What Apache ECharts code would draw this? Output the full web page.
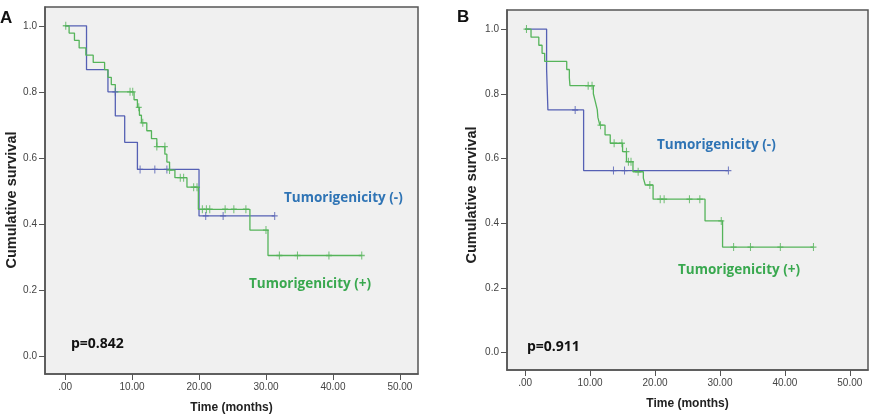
<!DOCTYPE html>
<html><head><meta charset="utf-8">
<script src="https://cdn.jsdelivr.net/npm/echarts@6/dist/echarts.min.js"></script>
<style>html,body{margin:0;padding:0;background:#fff}#c{width:874px;height:416px}</style>
</head><body><div id="c"></div>
<script>
// ---- tick values ----
const ticksX = [0, 10, 20, 30, 40, 50];
const ticksY = [0, 0.2, 0.4, 0.6, 0.8, 1.0];

// ---- Panel A: Tumorigenicity (-) ----
const aNegT = [0, 3.2, 6.4, 7.5, 8.9, 10.8, 20.0, 31.3];
const aNegS = [1.0, 0.867, 0.800, 0.727, 0.647, 0.565, 0.424, 0.424];
const aNegCensT = [7.5, 11.2, 13.4, 15.2, 21.0, 23.6, 31.3];
const aNegCensS = [0.800, 0.565, 0.565, 0.565, 0.424, 0.424, 0.424];

// ---- Panel A: Tumorigenicity (+) ----
const aPosT = [0, 0.6, 1.4, 2.1, 3.1, 4.2, 5.9, 6.4, 6.9, 7.5, 10.3, 10.8, 11.1, 11.4, 12.2, 12.9, 13.7, 14.9, 15.2, 15.6, 16.4, 18.2, 19.9, 27.6, 30.3, 44.3];
const aPosS = [1.0, 0.978, 0.956, 0.933, 0.911, 0.889, 0.867, 0.844, 0.822, 0.800, 0.776, 0.753, 0.729, 0.706, 0.682, 0.658, 0.634, 0.611, 0.587, 0.563, 0.540, 0.511, 0.444, 0.381, 0.304, 0.304];
const aPosCensT = [0.1, 9.7, 10.1, 11.0, 11.6, 13.7, 14.9, 15.6, 17.2, 17.7, 19.2, 19.7, 20.5, 21.1, 21.6, 23.9, 25.2, 27.0, 30.0, 32.0, 34.7, 39.4, 44.3];
const aPosCensS = [1.0, 0.800, 0.800, 0.753, 0.706, 0.634, 0.634, 0.563, 0.540, 0.540, 0.511, 0.511, 0.444, 0.444, 0.444, 0.444, 0.444, 0.444, 0.381, 0.304, 0.304, 0.304, 0.304];

// ---- Panel B: Tumorigenicity (-) ----
const bNegT = [0, 3.3, 3.5, 9.0, 31.3];
const bNegS = [1.0, 0.875, 0.750, 0.5625, 0.5625];
const bNegCensT = [7.7, 13.6, 15.3, 31.3];
const bNegCensS = [0.750, 0.5625, 0.5625, 0.5625];

// ---- Panel B: Tumorigenicity (+) ----
const bPosT = [0, 0.9, 2.1, 2.6, 3.0, 6.4, 6.8, 6.9, 10.5, 10.8, 11.1, 11.2, 11.5, 12.3, 13.1, 15.0, 15.6, 16.6, 18.2, 18.5, 19.7, 27.7, 30.4, 44.4];
const bPosS = [1.0, 0.975, 0.950, 0.925, 0.900, 0.875, 0.850, 0.825, 0.800, 0.776, 0.751, 0.727, 0.703, 0.673, 0.647, 0.621, 0.590, 0.559, 0.539, 0.518, 0.474, 0.407, 0.326, 0.326];
const bPosCensT = [0.2, 9.7, 10.3, 11.6, 13.7, 14.9, 15.6, 15.9, 16.3, 17.4, 19.2, 20.8, 21.4, 25.3, 26.9, 30.2, 32.1, 34.7, 39.3, 44.4];
const bPosCensS = [1.0, 0.825, 0.825, 0.703, 0.647, 0.647, 0.621, 0.590, 0.590, 0.559, 0.518, 0.474, 0.474, 0.474, 0.474, 0.407, 0.326, 0.326, 0.326, 0.326];

// ---- texts ----
const panelLabels = ['A', 'B'];
const legendNeg = 'Tumorigenicity (-)';
const legendPos = 'Tumorigenicity (+)';
const pValues = ['p=0.842', 'p=0.911'];
const yTitle = 'Cumulative survival';
const xTitle = 'Time (months)';

const BLUE_LINE = '#5560b4';
const GREEN_LINE = '#55b45a';
const BLUE_TXT = '#2f74b5';
const GREEN_TXT = '#39a84f';

const zip = (t, s) => t.map((v, i) => [v, s[i]]);
const plus = 'path://M5,0L5,10M1.5,5L8.5,5';

function xAxis(idx, min, max) {
  return {
    gridIndex: idx, type: 'value', min: min, max: max,
    name: xTitle, nameLocation: 'middle', nameGap: 28,
    nameTextStyle: {fontFamily: 'Liberation Sans', fontWeight: 'bold', fontSize: 12, color: '#222'},
    axisLine: {show: true, onZero: false, lineStyle: {color: '#555', width: 1.5}},
    axisTick: {show: true, length: 6, customValues: ticksX, lineStyle: {color: '#555'}},
    axisLabel: {customValues: ticksX, fontSize: 10, color: '#444', fontFamily: 'Liberation Sans', margin: 8,
      formatter: v => v === 0 ? '.00' : v.toFixed(2)},
    splitLine: {show: false}
  };
}
function yAxis(idx, min, max) {
  return {
    gridIndex: idx, type: 'value', min: min, max: max,
    axisLine: {show: true, onZero: false, lineStyle: {color: '#555', width: 1.5}},
    axisTick: {show: true, length: 6, customValues: ticksY, lineStyle: {color: '#555'}},
    axisLabel: {customValues: ticksY, fontSize: 10, color: '#444', fontFamily: 'Liberation Sans', margin: 8,
      formatter: v => v.toFixed(1)},
    splitLine: {show: false}
  };
}
function curve(idx, t, s, color) {
  return {type: 'line', xAxisIndex: idx, yAxisIndex: idx, step: 'end', data: zip(t, s),
    showSymbol: false, lineStyle: {color: color, width: 1.3}, silent: true, animation: false, z: 3};
}
function cens(idx, t, s, color) {
  return {type: 'scatter', xAxisIndex: idx, yAxisIndex: idx, data: zip(t, s),
    symbol: plus, symbolSize: [6, 8],
    itemStyle: {color: 'none', borderColor: color, borderWidth: 1.2}, silent: true, animation: false, z: 4};
}
const txt = (x, y, text, color, size, font) => ({type: 'text', left: x, top: y,
  style: {text: text, fill: color, font: 'bold ' + size + 'px ' + font}});
const vtxt = (cx, cy, text) => ({type: 'text', x: cx, y: cy, rotation: Math.PI / 2,
  style: {text: text, fill: '#222', font: 'bold 14.5px Liberation Sans', align: 'center', verticalAlign: 'middle'}});

const chart = echarts.init(document.getElementById('c'));
chart.setOption({
  backgroundColor: '#fff',
  animation: false,
  grid: [
    {left: 45, top: 7, width: 373, height: 367, outerBoundsMode: 'none', containLabel: false, show: true, backgroundColor: '#f0f0f0', borderColor: '#555', borderWidth: 1.5},
    {left: 507, top: 10, width: 361, height: 360, outerBoundsMode: 'none', containLabel: false, show: true, backgroundColor: '#f0f0f0', borderColor: '#555', borderWidth: 1.5}
  ],
  xAxis: [xAxis(0, -3, 52.7), xAxis(1, -2.8, 52.8)],
  yAxis: [yAxis(0, -0.055, 1.057), yAxis(1, -0.054, 1.059)],
  series: [
    curve(0, aNegT, aNegS, BLUE_LINE), cens(0, aNegCensT, aNegCensS, BLUE_LINE),
    curve(0, aPosT, aPosS, GREEN_LINE), cens(0, aPosCensT, aPosCensS, GREEN_LINE),
    curve(1, bNegT, bNegS, BLUE_LINE), cens(1, bNegCensT, bNegCensS, BLUE_LINE),
    curve(1, bPosT, bPosS, GREEN_LINE), cens(1, bPosCensT, bPosCensS, GREEN_LINE)
  ],
  graphic: [
    txt(0, 10, panelLabels[0], '#111', 17, 'Liberation Sans'),
    txt(457, 9, panelLabels[1], '#111', 17, 'Liberation Sans'),
    vtxt(12, 200, yTitle),
    vtxt(472, 195, yTitle),
    txt(284, 191, legendNeg, BLUE_TXT, 13.5, 'Open Sans'),
    txt(249, 277, legendPos, GREEN_TXT, 13.5, 'Open Sans'),
    txt(657, 138, legendNeg, BLUE_TXT, 13.5, 'Open Sans'),
    txt(678, 263, legendPos, GREEN_TXT, 13.5, 'Open Sans'),
    txt(71, 337, pValues[0], '#111', 14, 'Open Sans'),
    txt(527, 340, pValues[1], '#111', 14, 'Open Sans')
  ]
});
</script></body></html>
